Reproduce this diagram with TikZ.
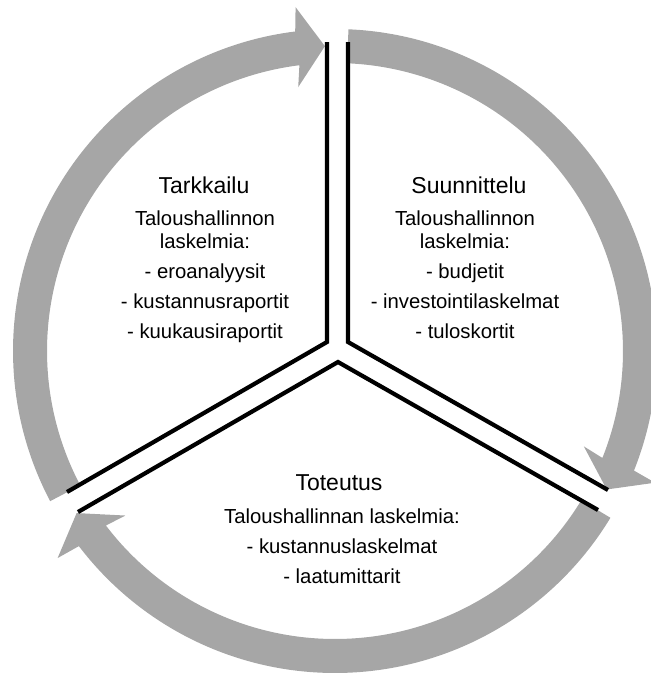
\documentclass[tikz,border=0pt]{standalone}
\usepackage{fontspec}
\setmainfont{Liberation Sans}
\usetikzlibrary{calc}
\definecolor{arrowgray}{RGB}{166,166,166}
% gray circular arrow: #1 tail angle, #2 tip angle (clockwise)
\newcommand{\cyclearrow}[2]{%
  \fill[arrowgray] ($(c)+(#1:322)$) arc[start angle=#1, end angle=#2+5.2, radius=322]
    -- ($(c)+(#2:305)+(#2+90:28)+(#2:40)$)
    -- ($(c)+(#2:305)$)
    -- ($(c)+(#2:305)+(#2+90:28)+(#2+180:40)$)
    -- ($(c)+(#2+5.2:288)$) arc[start angle=#2+5.2, end angle=#1, radius=288] -- cycle;}

\begin{document}
\begin{tikzpicture}[x=1pt, y=1pt,
    sectorline/.style={line width=4.2pt},
    title/.style={font=\fontsize{23}{27}\selectfont, inner sep=0pt, anchor=base},
    body/.style={font=\fontsize{20.3}{23.3}\selectfont, align=center, inner sep=0pt, anchor=north}]
    \useasboundingbox (0,0) rectangle (651,-673);
    \coordinate (c) at (335,-351);

    % arrows round the cycle
    \cyclearrow{207.8}{91.9}
    \cyclearrow{87.6}{-27.0}
    \cyclearrow{-31.2}{-147.9}

    % sector borders
    \coordinate (tl) at (327,-342);
    \coordinate (tr) at (348,-342);
    \coordinate (bm) at (338,-362);
    \draw[sectorline] (327,-42) coordinate(tlend) -- (tl) -- (67,-492) coordinate(lup);
    \draw[sectorline] (348,-42) coordinate(trend) -- (tr) -- (608,-490) coordinate(rup);
    \draw[sectorline] (78,-512) coordinate(llow) -- (bm) -- (598,-510) coordinate(rlow);

    % texts
    \node[title] (tarkkailu) at (204,-193.3) {Tarkkailu};
    \node[body] (tarkkailulist) at (205,-210.5) {Taloushallinnon\\laskelmia:\\[6.7pt]
        - eroanalyysit\\[6.7pt] - kustannusraportit\\[6.7pt] - kuukausiraportit};

    \node[title] (suunnittelu) at (469,-193.3) {Suunnittelu};
    \node[body] (suunnittelulist) at (465,-210.5) {Taloushallinnon\\laskelmia:\\[6.7pt]
        - budjetit\\[6.7pt] - investointilaskelmat\\[6.7pt] - tuloskortit};

    \node[title] (toteutus) at (339,-490) {Toteutus};
    \node[body] (toteutuslist) at (342,-508.8) {Taloushallinnan laskelmia:\\[6.7pt]
        - kustannuslaskelmat\\[6.7pt] - laatumittarit};
\end{tikzpicture}
\end{document}
